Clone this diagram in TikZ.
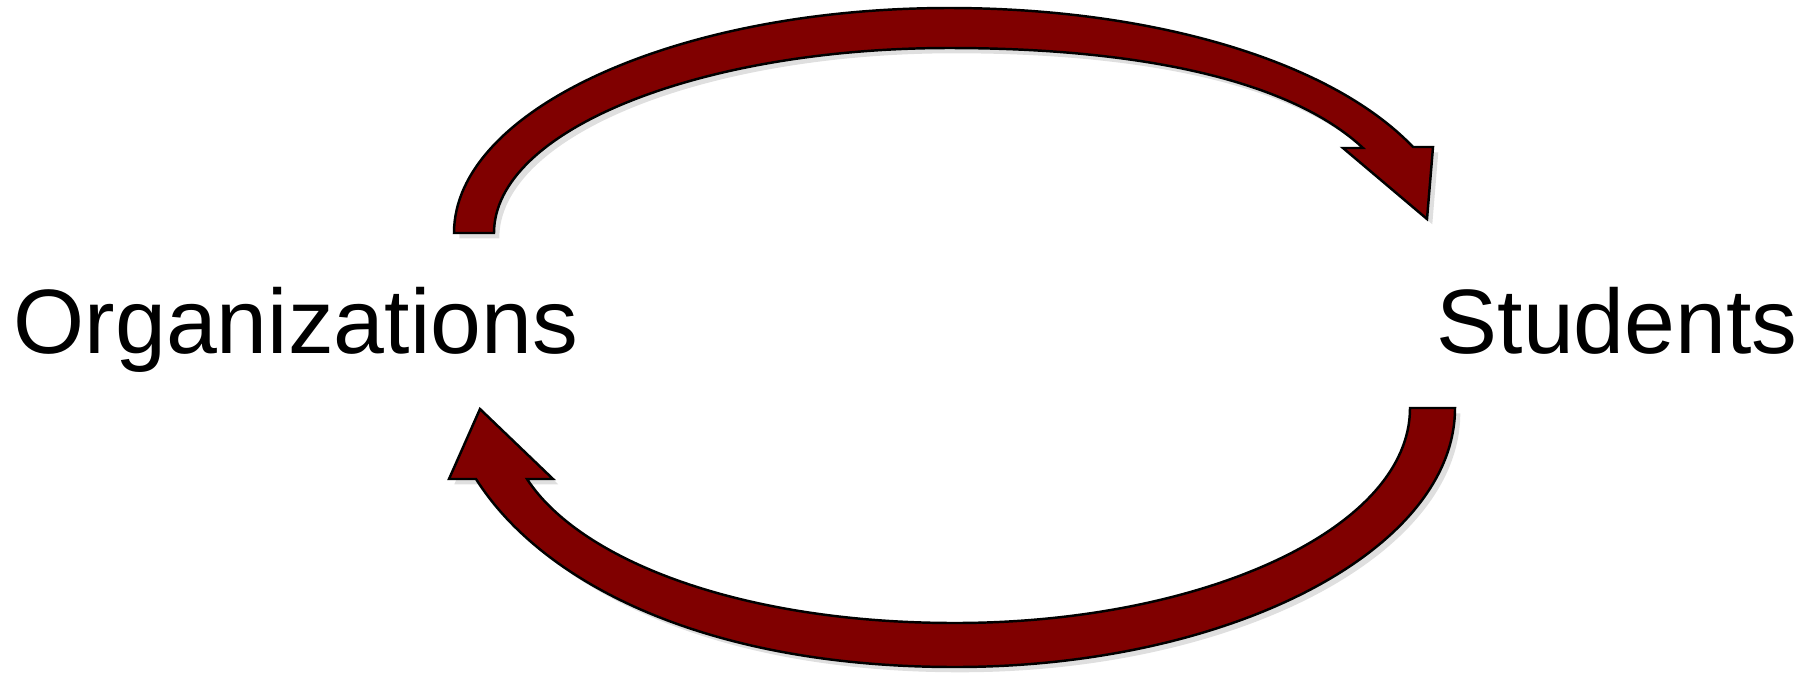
\documentclass[tikz,border=0pt]{standalone}
\usepackage{fontspec}
\setmainfont{Liberation Sans}
\usetikzlibrary{shadows}

\begin{document}
\begin{tikzpicture}[x=0.01cm,y=-0.01cm,line join=miter]
  % ----- styles & colors -----
  \definecolor{arrowred}{RGB}{128,0,0}  % dark red
  \tikzset{
    blockarrow/.style={draw=black,line width=0.7pt,fill=arrowred,
      drop shadow={shadow xshift=1.5pt,shadow yshift=-1.5pt,opacity=0.25}},
    namebox/.style={inner sep=0pt,anchor=base west,font=\fontsize{26}{30}\selectfont}
  }
  \useasboundingbox (0,0) rectangle (1803,672);

  % ----- the two parties -----
  \node[namebox] (org) at (13,353) {Organizations};
  \node[namebox] (stu) at (1436,353) {Students};

  % ----- ends of the two arrows -----
  \coordinate (orgOut) at (454,233);   % tail of top arrow
  \coordinate (stuIn)  at (1427,219);  % tip of top arrow
  \coordinate (stuOut) at (1455,408);  % tail of bottom arrow
  \coordinate (orgIn)  at (480,409);   % tip of bottom arrow

  % top arrow: Organizations -> Students
  \draw[blockarrow] (orgOut) .. controls (454,110) and (676,8) .. (949,8)
    .. controls (1150,8) and (1330,60) .. (1413,147)
    -- (1433,147) -- (stuIn) -- (1343,148) -- (1363,148)
    .. controls (1290,80) and (1140,48) .. (949,48)
    .. controls (700,48) and (494,130) .. (494,233) -- cycle;

  % bottom arrow: Students -> Organizations
  \draw[blockarrow] (stuOut) .. controls (1455,550) and (1230,667) .. (955,667)
    .. controls (700,667) and (540,580) .. (476,479)
    -- (449,479) -- (orgIn) -- (553,479) -- (527,479)
    .. controls (580,560) and (740,623) .. (955,623)
    .. controls (1200,623) and (1410,530) .. (1410,408) -- cycle;

\end{tikzpicture}
\end{document}
